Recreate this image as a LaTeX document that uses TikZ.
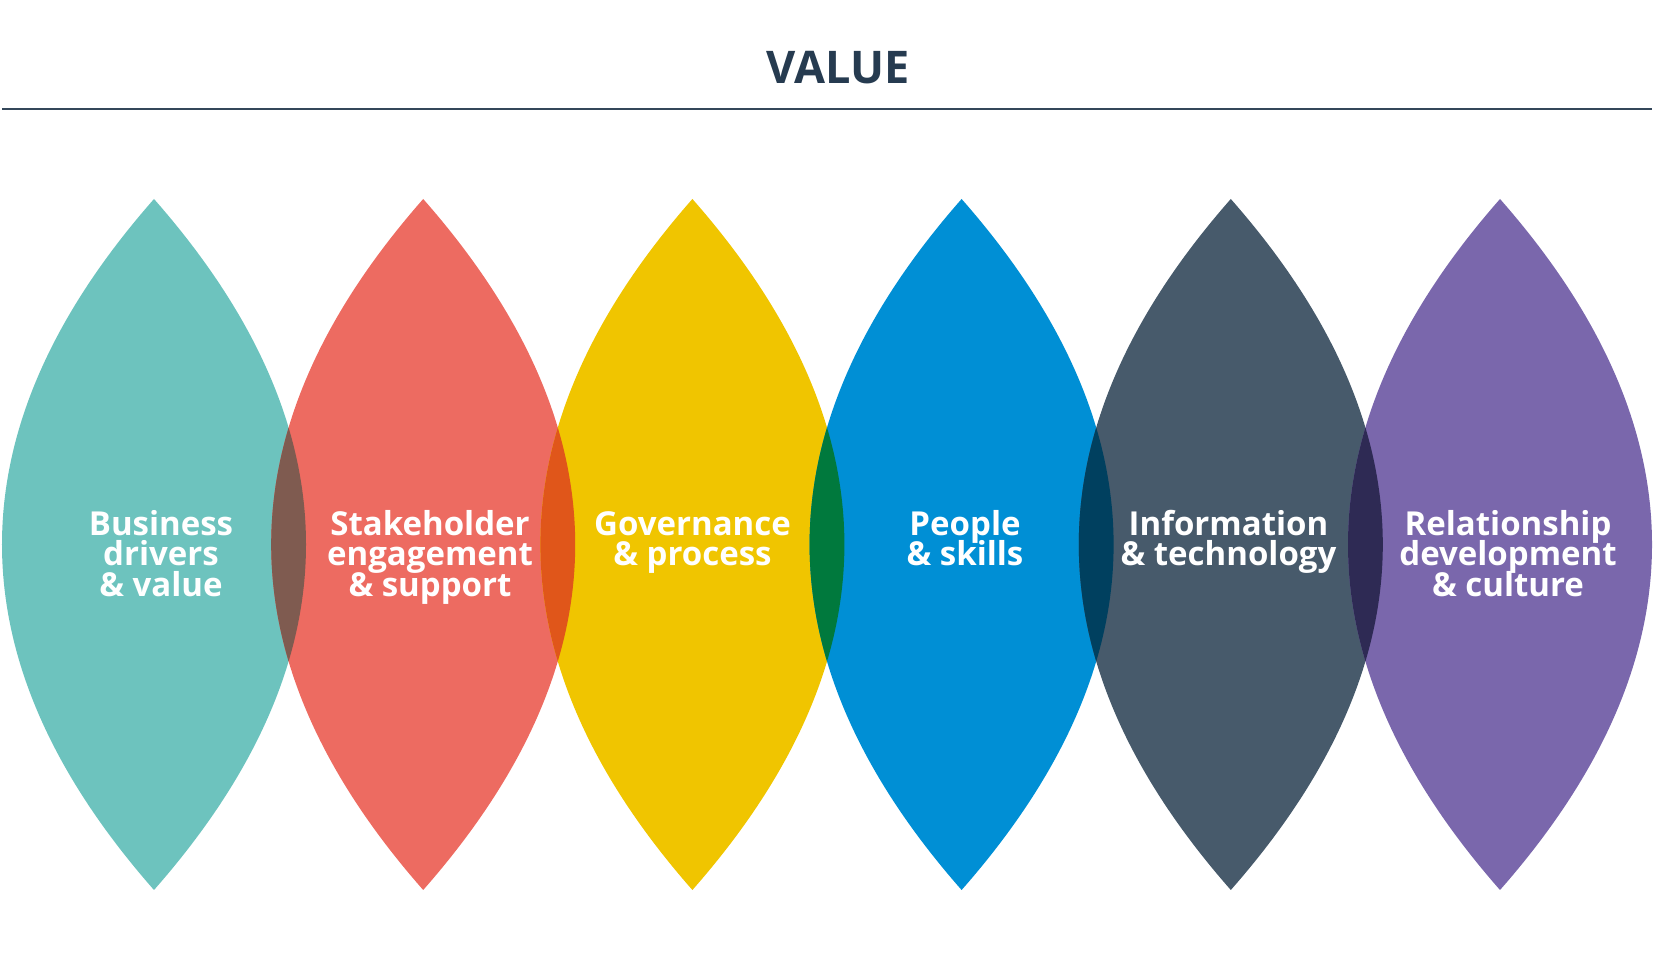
\documentclass[tikz,border=0pt]{standalone}
\usepackage{fontspec}
\setmainfont{Open Sans}
\usetikzlibrary{calc}
\definecolor{valueink}{HTML}{263B50}
\definecolor{ruleink}{HTML}{34475A}
\definecolor{lensteal}{HTML}{6DC3BE}
\definecolor{lensred}{HTML}{ED6B61}
\definecolor{lensyellow}{HTML}{F0C500}
\definecolor{lensblue}{HTML}{008FD5}
\definecolor{lensslate}{HTML}{475A6B}
\definecolor{lenspurple}{HTML}{7A67AC}
\definecolor{ovbrown}{HTML}{7F5B50}
\definecolor{ovorange}{HTML}{E0561A}
\definecolor{ovgreen}{HTML}{00793D}
\definecolor{ovnavy}{HTML}{00405F}
\definecolor{ovplum}{HTML}{2E2A54}
\def\lenspath(#1){(#1, 767) .. controls ({#1+202.67}, 536.67) and ({#1+202.67}, 306.33) .. (#1, 76) .. controls ({#1-202.67}, 306.33) and ({#1-202.67}, 536.67) .. (#1, 767) -- cycle}
\def\lensfill[#1](#2){\fill[#1] \lenspath(#2);}
\def\lensclip(#1){\clip \lenspath(#1);}
\def\firstline{\rule{0pt}{26pt}}

\begin{document}
\begin{tikzpicture}[x=1pt, y=1pt,
	lenslabel/.style={anchor=north, inner sep=0pt, align=center, text=white,
		font=\fontsize{33}{30.5}\selectfont\bfseries,
		execute at begin node={\lineskiplimit=-50pt\relax}}]
			%%%%% START %%%%%
			
			\useasboundingbox (0, 0) rectangle (1656, 966);
			
			\node[anchor=base, inner sep=0pt, text=valueink, font=\fontsize{45}{50}\selectfont\bfseries] (value) at (838, 882) {VALUE};
			\coordinate (rulel) at (2, 856.7);
			\coordinate (ruler) at (1652, 856.7);
			\draw[line width=2pt, color=ruleink] (rulel) -- (ruler);
			
			\lensfill[lensteal](154)
			\lensfill[lensred](423.2)
			\lensfill[lensyellow](692.4)
			\lensfill[lensblue](961.6)
			\lensfill[lensslate](1230.8)
			\lensfill[lenspurple](1500)
			
			\begin{scope}\lensclip(154)\lensfill[ovbrown](423.2)\end{scope}
			\begin{scope}\lensclip(423.2)\lensfill[ovorange](692.4)\end{scope}
			\begin{scope}\lensclip(692.4)\lensfill[ovgreen](961.6)\end{scope}
			\begin{scope}\lensclip(961.6)\lensfill[ovnavy](1230.8)\end{scope}
			\begin{scope}\lensclip(1230.8)\lensfill[ovplum](1500)\end{scope}
			
			\node[lenslabel] (business) at (161, 457) {\firstline Business\\drivers\\\& value};
			\node[lenslabel] (stakeholder) at (430, 457) {\firstline Stakeholder\\engagement\\\& support};
			\node[lenslabel] (governance) at (692.5, 457) {\firstline Governance\\\& process};
			\node[lenslabel] (people) at (965, 457) {\firstline People\\\& skills};
			\node[lenslabel] (information) at (1228.5, 457) {\firstline Information\\\& technology};
			\node[lenslabel] (relationship) at (1508, 457) {\firstline Relationship\\development\\\& culture};
			
			%%%%% END %%%%%
		\end{tikzpicture}
\end{document}
